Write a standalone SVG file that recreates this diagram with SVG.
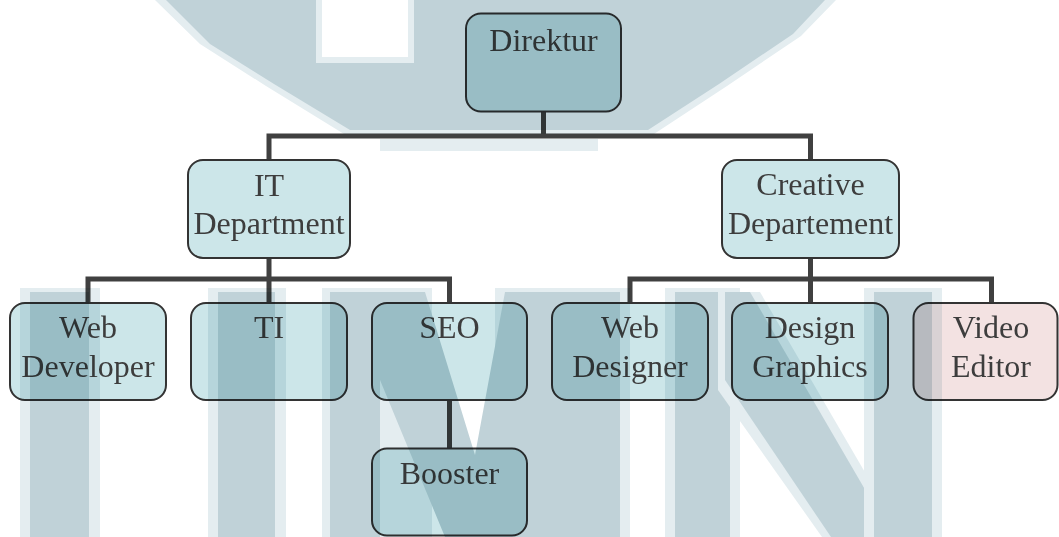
<svg xmlns="http://www.w3.org/2000/svg" width="1059" height="537" viewBox="0 0 1059 537">
<style>
.box{fill:#cce6e9;stroke:#333;stroke-width:2}
.pink{fill:#f3e2e2}
.lbl{font-family:"Liberation Serif","Times New Roman",serif;font-size:32px;fill:#3d3d3d;text-anchor:middle}
.con{fill:none;stroke:#404040;stroke-width:5;stroke-linejoin:miter}
.wm{fill:#c0d2d8}
.wml{fill:#e4edf0}
</style>
<rect width="1059" height="537" fill="#fff"/>
<g id="connectors">
<path class="con" d="M543.5 111.5V136M269 160V136H810.5V160"/>
<path class="con" d="M269 258V279M88 303V279H449.5V303M269 279V303"/>
<path class="con" d="M449.5 400V448.5"/>
<path class="con" d="M810.5 258V279M630 303V279H991.5V303M810.5 279V303"/>
</g>
<g id="direktur"><rect class="box" x="466" y="13.5" width="155" height="98" rx="15"/><text class="lbl" x="543.5" y="51">Direktur</text></g>
<g id="it-department"><rect class="box" x="188" y="160" width="162" height="98" rx="15"/><text class="lbl" x="269" y="196">IT</text><text class="lbl" x="269" y="234">Department</text></g>
<g id="creative-departement"><rect class="box" x="722" y="160" width="177" height="98" rx="15"/><text class="lbl" x="810.5" y="195">Creative</text><text class="lbl" x="810.5" y="233.5">Departement</text></g>
<g id="web-developer"><rect class="box" x="10" y="303" width="156" height="97" rx="15"/><text class="lbl" x="88" y="338">Web</text><text class="lbl" x="88" y="376.5">Developer</text></g>
<g id="ti"><rect class="box" x="191" y="303" width="156" height="97" rx="15"/><text class="lbl" x="269" y="338">TI</text></g>
<g id="seo"><rect class="box" x="372" y="303" width="155" height="97" rx="15"/><text class="lbl" x="449.5" y="338">SEO</text></g>
<g id="booster"><rect class="box" x="372" y="448.5" width="155" height="87" rx="15"/><text class="lbl" x="449.5" y="484">Booster</text></g>
<g id="web-designer"><rect class="box" x="552" y="303" width="156" height="97" rx="15"/><text class="lbl" x="630" y="338">Web</text><text class="lbl" x="630" y="376.5">Designer</text></g>
<g id="design-graphics"><rect class="box" x="732" y="303" width="156" height="97" rx="15"/><text class="lbl" x="810" y="338">Design</text><text class="lbl" x="810" y="376.5">Graphics</text></g>
<g id="video-editor"><rect class="box pink" x="913.5" y="303" width="144" height="97" rx="15"/><text class="lbl" x="991" y="338">Video</text><text class="lbl" x="991" y="376.5">Editor</text></g>
<g id="watermark" style="mix-blend-mode:multiply">
<path class="wml" fill-rule="evenodd" d="M155 0L200 44L266 86L344 134H654L727 86L801 36L836 0ZM322 0H408V57H322Z"/>
<path class="wm" fill-rule="evenodd" d="M166 0L210 44L274 84L350 130H648L719 84L793 34L825 0ZM316 0H414V63H316Z"/>
<rect class="wml" x="380" y="139" width="218" height="12"/>
<rect class="wml" x="20" y="288" width="80" height="249"/>
<rect class="wm" x="30" y="292" width="59" height="245"/>
<rect class="wml" x="208" y="288" width="78" height="249"/>
<rect class="wm" x="218" y="292" width="57" height="245"/>
<rect class="wml" x="322" y="288" width="110" height="249"/>
<rect class="wml" x="495" y="288" width="135" height="249"/>
<rect class="wm" x="330" y="292" width="50" height="245"/>
<polygon class="wm" points="380,292 425,292 475,455 505,292 527,292 527,537 445,537 380,380"/>
<rect class="wm" x="527" y="292" width="93" height="245"/>
<rect class="wml" x="665" y="288" width="75" height="249"/>
<rect class="wm" x="675" y="292" width="55" height="245"/>
<polygon class="wml" points="718,292 760,292 884,505 884,537 822,537 718,390"/>
<polygon class="wm" points="725,292 750,292 874,505 874,537 831,537 725,380"/>
<rect class="wml" x="864" y="288" width="78" height="249"/>
<rect class="wm" x="874" y="292" width="58" height="245"/>
</g>
</svg>
